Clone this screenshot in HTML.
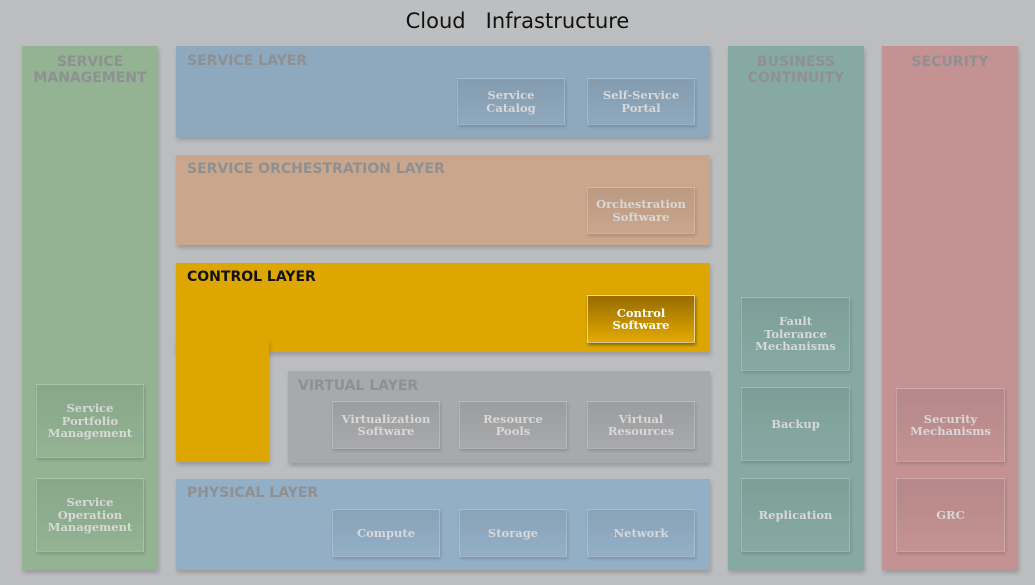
<!DOCTYPE html>
<html><head><meta charset="utf-8"><style>
body{margin:0;width:1035px;height:585px;background:#bcbdbf;position:relative;overflow:hidden;font-family:"DejaVu Sans","Liberation Sans",sans-serif;}
div{position:absolute;box-sizing:border-box;}
.t{left:0;top:0;width:1035px;height:38px;text-align:center;line-height:42px;font-size:21px;color:#111;font-family:"DejaVu Sans",sans-serif;background:#bdbebf;}
.p{box-shadow:1px 3px 4px rgba(0,0,0,0.18);}
.h{font-weight:bold;font-size:14px;color:#8f9092;white-space:nowrap;line-height:16px;}
.b{border:1px solid rgba(255,255,255,0.22);box-shadow:1px 2px 3px rgba(0,0,0,0.15);display:flex;align-items:center;justify-content:center;text-align:center;color:#d8d8d8;font-weight:bold;font-size:11.5px;line-height:12.5px;font-family:"DejaVu Serif","Liberation Serif",serif;background:linear-gradient(rgba(0,0,0,0.07),rgba(0,0,0,0));}
</style></head><body>
<div class="t">Cloud&nbsp;&nbsp; Infrastructure</div>

<div class="p" style="left:22px;top:46px;width:136px;height:524px;background:#93b393"></div>
<div class="h" style="left:22px;top:54px;width:136px;text-align:center">SERVICE<br>MANAGEMENT</div>
<div class="b" style="left:36px;top:384px;width:108px;height:74px">Service<br>Portfolio<br>Management</div>
<div class="b" style="left:36px;top:478px;width:108px;height:74px">Service<br>Operation<br>Management</div>

<div class="p" style="left:176px;top:46px;width:534px;height:91px;background:#8ea8bd"></div>
<div class="h" style="left:187px;top:53px">SERVICE LAYER</div>
<div class="b" style="left:457px;top:78px;width:108px;height:47px">Service<br>Catalog</div>
<div class="b" style="left:587px;top:78px;width:108px;height:47px">Self-Service<br>Portal</div>

<div class="p" style="left:176px;top:155px;width:534px;height:90px;background:#c9a68c"></div>
<div class="h" style="left:187px;top:161px">SERVICE ORCHESTRATION LAYER</div>
<div class="b" style="left:587px;top:187px;width:108px;height:47px">Orchestration<br>Software</div>

<div class="p" style="left:176px;top:263px;width:534px;height:89px;background:#dea600"></div>
<div class="p" style="left:176px;top:340px;width:93px;height:122px;background:#dea600"></div>
<div style="left:176px;top:300px;width:93px;height:60px;background:#dea600"></div>
<div class="h" style="left:187px;top:269px;color:#111">CONTROL LAYER</div>
<div class="b" style="left:587px;top:295px;width:108px;height:48px;color:#fff;background:linear-gradient(#986b00,#e2aa00);border:1px solid rgba(255,255,255,0.6);box-shadow:1px 2px 3px rgba(0,0,0,0.4)">Control<br>Software</div>

<div class="p" style="left:288px;top:371px;width:422px;height:92px;background:#a8a9ab"></div>
<div class="h" style="left:298px;top:378px">VIRTUAL LAYER</div>
<div class="b" style="left:332px;top:401px;width:108px;height:48px">Virtualization<br>Software</div>
<div class="b" style="left:459px;top:401px;width:108px;height:48px">Resource<br>Pools</div>
<div class="b" style="left:587px;top:401px;width:108px;height:48px">Virtual<br>Resources</div>

<div class="p" style="left:176px;top:479px;width:534px;height:91px;background:#93afc6"></div>
<div class="h" style="left:187px;top:485px">PHYSICAL LAYER</div>
<div class="b" style="left:332px;top:509px;width:108px;height:48px">Compute</div>
<div class="b" style="left:459px;top:509px;width:108px;height:48px">Storage</div>
<div class="b" style="left:587px;top:509px;width:108px;height:48px">Network</div>

<div class="p" style="left:728px;top:46px;width:136px;height:524px;background:#86aaa3"></div>
<div class="h" style="left:728px;top:54px;width:136px;text-align:center">BUSINESS<br>CONTINUITY</div>
<div class="b" style="left:741px;top:297px;width:109px;height:74px">Fault<br>Tolerance<br>Mechanisms</div>
<div class="b" style="left:741px;top:387px;width:109px;height:74px">Backup</div>
<div class="b" style="left:741px;top:478px;width:109px;height:74px">Replication</div>

<div class="p" style="left:882px;top:46px;width:136px;height:524px;background:#c49293"></div>
<div class="h" style="left:882px;top:54px;width:136px;text-align:center">SECURITY</div>
<div class="b" style="left:896px;top:388px;width:109px;height:74px">Security<br>Mechanisms</div>
<div class="b" style="left:896px;top:478px;width:109px;height:74px">GRC</div>
</body></html>
